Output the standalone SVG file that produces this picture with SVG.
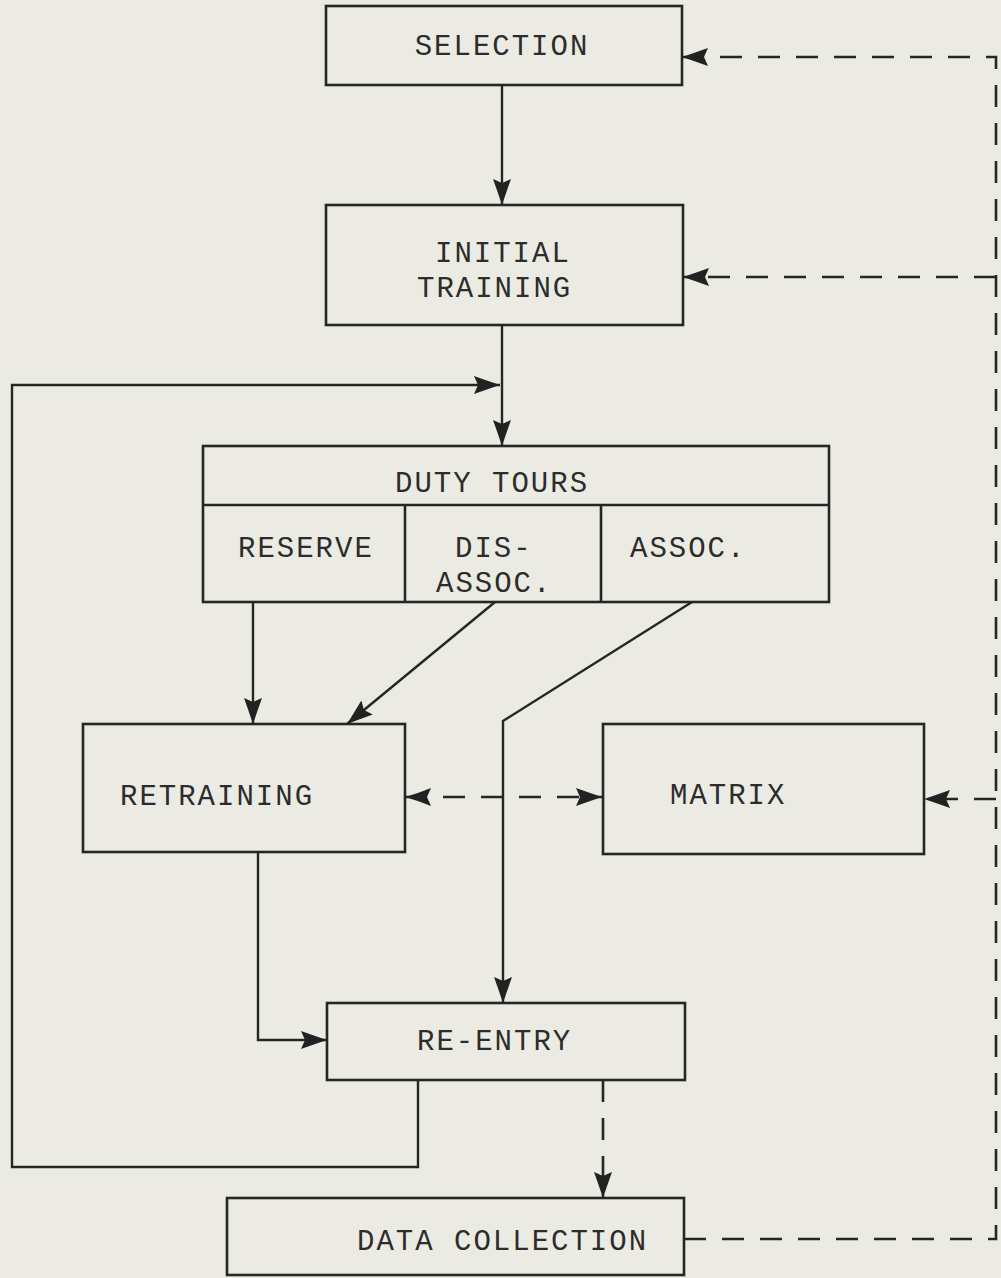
<svg xmlns="http://www.w3.org/2000/svg" width="1001" height="1278" viewBox="0 0 1001 1278">
<style>
.box{fill:none;stroke:#262626;stroke-width:2.6}
.ln{fill:none;stroke:#262626;stroke-width:2.4}
.ds{fill:none;stroke:#262626;stroke-width:2.6;stroke-dasharray:22 16}
text{font-family:"Liberation Mono","DejaVu Sans Mono",monospace;font-size:29px;fill:#2c2c2c;letter-spacing:2px}
.c{text-anchor:middle}
</style>
<defs>
<marker id="ah" markerUnits="userSpaceOnUse" markerWidth="28" markerHeight="20" refX="26" refY="9" orient="auto">
<path d="M0,0 Q14,5 26,9 Q14,13 0,18 L4,9 z" fill="#222"/>
</marker>
<marker id="as" markerUnits="userSpaceOnUse" markerWidth="28" markerHeight="20" refX="2" refY="9" orient="auto">
<path d="M28,0 Q16,5 2,9 Q16,13 28,18 L24,9 z" fill="#222"/>
</marker>
</defs>
<rect width="1001" height="1278" fill="#ebebe3"/>
<g id="connectors">
<path class="ln" d="M502,85 V205" marker-end="url(#ah)"/>
<path class="ln" d="M502,325 V446" marker-end="url(#ah)"/>
<path class="ln" d="M418,1080 V1167 H12 V385 H500" marker-end="url(#ah)"/>
<path class="ln" d="M253,602 V724" marker-end="url(#ah)"/>
<path class="ln" d="M495,602 L347,724" marker-end="url(#ah)"/>
<path class="ln" d="M692,602 L503,721 V1003" marker-end="url(#ah)"/>
<path class="ln" d="M258,852 V1040 H327" marker-end="url(#ah)"/>
<path class="ds" d="M405,797 H602" marker-start="url(#as)" marker-end="url(#ah)"/>
<path class="ds" d="M603,1080 V1198" marker-end="url(#ah)"/>
<path class="ds" d="M684,1239 H996 V57 H682" marker-end="url(#ah)"/>
<path class="ds" d="M996,277 H683" marker-end="url(#ah)"/>
<path class="ds" d="M996,799 H924" marker-end="url(#ah)"/>
</g>
<g id="selection">
<rect class="box" x="326" y="6" width="356" height="79"/>
<text class="c" x="502" y="55">SELECTION</text>
</g>
<g id="initial-training">
<rect class="box" x="326" y="205" width="357" height="120"/>
<text x="435" y="262">INITIAL</text>
<text x="417" y="297">TRAINING</text>
</g>
<g id="duty-tours">
<rect class="box" x="203" y="446" width="626" height="156"/>
<line class="box" x1="203" y1="505" x2="829" y2="505"/>
<line class="box" x1="405" y1="505" x2="405" y2="602"/>
<line class="box" x1="601" y1="505" x2="601" y2="602"/>
<text x="395" y="492">DUTY TOURS</text>
<text x="238" y="557">RESERVE</text>
<text x="455" y="557">DIS-</text>
<text x="436" y="592">ASSOC.</text>
<text x="630" y="557">ASSOC.</text>
</g>
<g id="retraining">
<rect class="box" x="83" y="724" width="322" height="128"/>
<text x="120" y="805">RETRAINING</text>
</g>
<g id="matrix">
<rect class="box" x="603" y="724" width="321" height="130"/>
<text x="670" y="804">MATRIX</text>
</g>
<g id="re-entry">
<rect class="box" x="327" y="1003" width="358" height="77"/>
<text x="417" y="1050">RE-ENTRY</text>
</g>
<g id="data-collection">
<rect class="box" x="227" y="1198" width="457" height="77"/>
<text x="357" y="1250">DATA COLLECTION</text>
</g>
</svg>
